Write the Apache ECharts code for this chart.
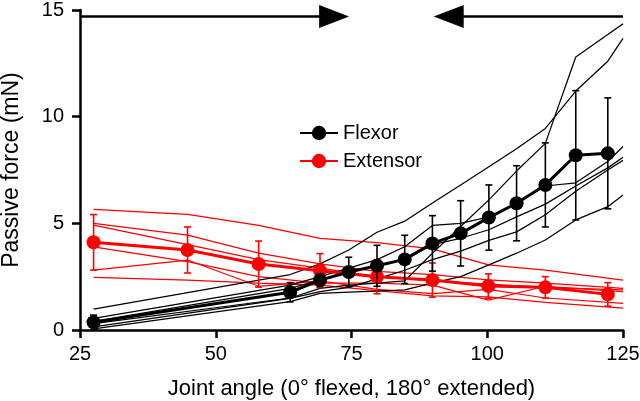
<!DOCTYPE html>
<html>
<head>
<meta charset="utf-8">
<script src="https://cdn.jsdelivr.net/npm/echarts@6/dist/echarts.min.js"></script>
<style>
html,body{margin:0;padding:0;background:#fff;}
#chart{width:640px;height:401px;}
</style>
</head>
<body>
<div id="chart"></div>
<script>
// ---- data ----
const xTicks = [25, 50, 75, 100, 125];
const yTicks = [0, 5, 10, 15];

// Flexor mean ± SD
const flexX    = [27.5, 63.7, 69.2, 74.5, 79.7, 84.8, 89.9, 95.1, 100.3, 105.4, 110.7, 116.3, 122.2];
const flexMean = [0.36, 1.77, 2.34, 2.72, 3.01, 3.31, 4.06, 4.53, 5.27, 5.94, 6.80, 8.19, 8.28];
const flexSD   = [0.34, 0.45, 0.30, 0.69, 0.96, 1.13, 1.30, 1.53, 1.53, 1.76, 1.97, 3.03, 2.60];

// Extensor mean ± SD
const extX    = [27.5, 44.8, 57.9, 69.2, 79.7, 89.9, 100.2, 110.7, 122.2];
const extMean = [4.11, 3.75, 3.09, 2.78, 2.50, 2.34, 2.06, 2.00, 1.67];
const extSD   = [1.30, 1.08, 1.08, 0.80, 0.80, 0.80, 0.57, 0.50, 0.55];

// Individual flexor traces
const flexTraceX = [27.5, 63.7, 69.2, 74.5, 79.7, 84.8, 89.9, 95.1, 100.3, 105.4, 110.7, 116.3, 122.2, 125];
const flexTrace1 = [0.98, 2.60, 3.10, 3.75, 4.58, 5.10, 5.95, 6.80, 7.65, 8.50, 9.45, 11.20, 12.60, 13.67];
const flexTrace2 = [0.30, 1.50, 1.95, 2.10, 2.20, 2.30, 3.60, 4.85, 6.10, 7.45, 8.75, 12.80, 13.85, 14.35];
const flexTrace3 = [0.55, 2.10, 2.50, 2.90, 3.30, 3.90, 4.90, 5.00, 5.30, 5.95, 6.75, 6.90, 7.90, 8.60];
const flexTrace4 = [0.40, 1.95, 2.35, 2.70, 3.00, 3.30, 4.00, 4.30, 4.70, 5.30, 5.90, 6.75, 7.60, 8.10];
const flexTrace5 = [0.15, 1.48, 1.80, 2.00, 2.40, 2.80, 3.30, 3.70, 4.20, 4.60, 5.40, 6.50, 7.50, 7.95];
const flexTrace6 = [0.05, 1.33, 1.72, 1.78, 1.82, 1.88, 2.20, 2.50, 3.05, 3.60, 4.22, 5.16, 5.78, 6.33];

// Individual extensor traces
const extTraceX = [27.5, 44.8, 57.9, 69.2, 79.7, 89.9, 100.2, 110.7, 125];
const extTrace1 = [5.66, 5.42, 4.90, 4.30, 4.10, 3.80, 3.05, 2.81, 2.34];
const extTrace2 = [5.00, 4.45, 3.60, 3.10, 2.75, 2.60, 2.35, 2.20, 1.95];
const extTrace3 = [4.92, 4.00, 3.30, 2.90, 2.50, 2.30, 2.15, 2.00, 1.88];
const extTrace4 = [3.90, 3.20, 2.50, 2.20, 2.20, 2.10, 1.40, 2.05, 1.80];
const extTrace5 = [2.81, 3.28, 2.05, 2.30, 1.90, 1.70, 1.90, 1.50, 1.25];
const extTrace6 = [2.47, 2.34, 2.20, 2.10, 1.85, 1.60, 1.55, 1.30, 1.02];

// Direction arrows along the top (x start, x end, y)
const arrowRight = [25.2, 71.8, 14.69];
const arrowLeft  = [125, 92.9, 14.69];

// ---- build ----
const FONT = 'Liberation Sans, Arial, sans-serif';
const RED = '#ff0000';
const BLACK = '#000000';

function pairs(xs, ys) { return xs.map((x, i) => [x, ys[i]]); }
function errData(xs, m, sd) { return xs.map((x, i) => [x, m[i] - sd[i], m[i] + sd[i]]); }

function traceSeries(name, xs, ys, color) {
  return {
    name: name, type: 'line', data: pairs(xs, ys), symbol: 'none',
    lineStyle: { color: color, width: 1.25 }, silent: true, z: 2
  };
}

function errSeries(name, data, color, z) {
  return {
    name: name, type: 'custom', data: data, z: z, silent: true,
    renderItem: function (params, api) {
      const x = api.value(0), lo = api.value(1), hi = api.value(2);
      const p1 = api.coord([x, hi]);
      const p2 = api.coord([x, lo]);
      const w = 3.5;
      const st = { stroke: color, lineWidth: 1.6 };
      return {
        type: 'group',
        children: [
          { type: 'line', shape: { x1: p1[0], y1: p1[1], x2: p2[0], y2: p2[1] }, style: st },
          { type: 'line', shape: { x1: p1[0] - w, y1: p1[1], x2: p1[0] + w, y2: p1[1] }, style: st },
          { type: 'line', shape: { x1: p2[0] - w, y1: p2[1], x2: p2[0] + w, y2: p2[1] }, style: st }
        ]
      };
    }
  };
}

const series = [];
[extTrace1, extTrace2, extTrace3, extTrace4, extTrace5, extTrace6].forEach((t, i) =>
  series.push(traceSeries('ext' + i, extTraceX, t, RED)));
series.push(errSeries('extErr', errData(extX, extMean, extSD), RED, 3));
series.push({
  name: 'Extensor', type: 'line', data: pairs(extX, extMean),
  symbol: 'circle', symbolSize: 14, color: RED,
  itemStyle: { color: RED }, lineStyle: { color: RED, width: 3 }, z: 4
});
[flexTrace1, flexTrace2, flexTrace3, flexTrace4, flexTrace5, flexTrace6].forEach((t, i) =>
  series.push(traceSeries('flex' + i, flexTraceX, t, BLACK)));
series.push(errSeries('flexErr', errData(flexX, flexMean, flexSD), BLACK, 5));
series.push({
  name: 'Flexor', type: 'line', data: pairs(flexX, flexMean),
  symbol: 'circle', symbolSize: 14, color: BLACK,
  itemStyle: { color: BLACK }, lineStyle: { color: BLACK, width: 3 }, z: 6,
  markLine: {
    silent: true, animation: false,
    symbol: ['none', 'triangle'], symbolSize: [23, 30],
    label: { show: false },
    lineStyle: { color: BLACK, width: 2.5, type: 'solid' },
    emphasis: { disabled: true },
    data: [
      [{ coord: [arrowRight[0], arrowRight[2]] }, { coord: [arrowRight[1], arrowRight[2]] }],
      [{ coord: [arrowLeft[0], arrowLeft[2]] }, { coord: [arrowLeft[1], arrowLeft[2]] }]
    ]
  }
});

const chart = echarts.init(document.getElementById('chart'), null, { renderer: 'canvas' });
chart.setOption({
  animation: false,
  backgroundColor: '#fff',
  grid: { left: 80, right: 17, top: 10, bottom: 71, containLabel: false, outerBoundsMode: 'none' },
  legend: {
    data: ['Flexor', 'Extensor'],
    orient: 'vertical', left: 294, top: 118,
    itemWidth: 38, itemHeight: 18, itemGap: 8,
    textStyle: { fontSize: 20, color: BLACK, fontFamily: FONT },
    selectedMode: false
  },
  xAxis: {
    type: 'value', min: xTicks[0], max: xTicks[xTicks.length - 1], interval: 25,
    name: 'Joint angle (0° flexed, 180° extended)', nameLocation: 'middle', nameGap: 48,
    nameTextStyle: { fontSize: 22, color: BLACK, fontFamily: FONT },
    axisLine: { lineStyle: { color: BLACK, width: 2.5 } },
    axisTick: { length: 8, lineStyle: { color: BLACK, width: 2.5 } },
    axisLabel: { fontSize: 20, color: BLACK, fontFamily: FONT, margin: 14 },
    splitLine: { show: false }
  },
  yAxis: {
    type: 'value', min: yTicks[0], max: yTicks[yTicks.length - 1], interval: 5,
    name: 'Passive force (mN)', nameLocation: 'middle', nameGap: 57,
    nameTextStyle: { fontSize: 23, color: BLACK, fontFamily: FONT },
    axisLine: { lineStyle: { color: BLACK, width: 2.5 } },
    axisTick: { length: 8, lineStyle: { color: BLACK, width: 2.5 } },
    axisLabel: { fontSize: 20, color: BLACK, fontFamily: FONT, margin: 16 },
    splitLine: { show: false }
  },
  series: series
});
</script>
</body>
</html>
